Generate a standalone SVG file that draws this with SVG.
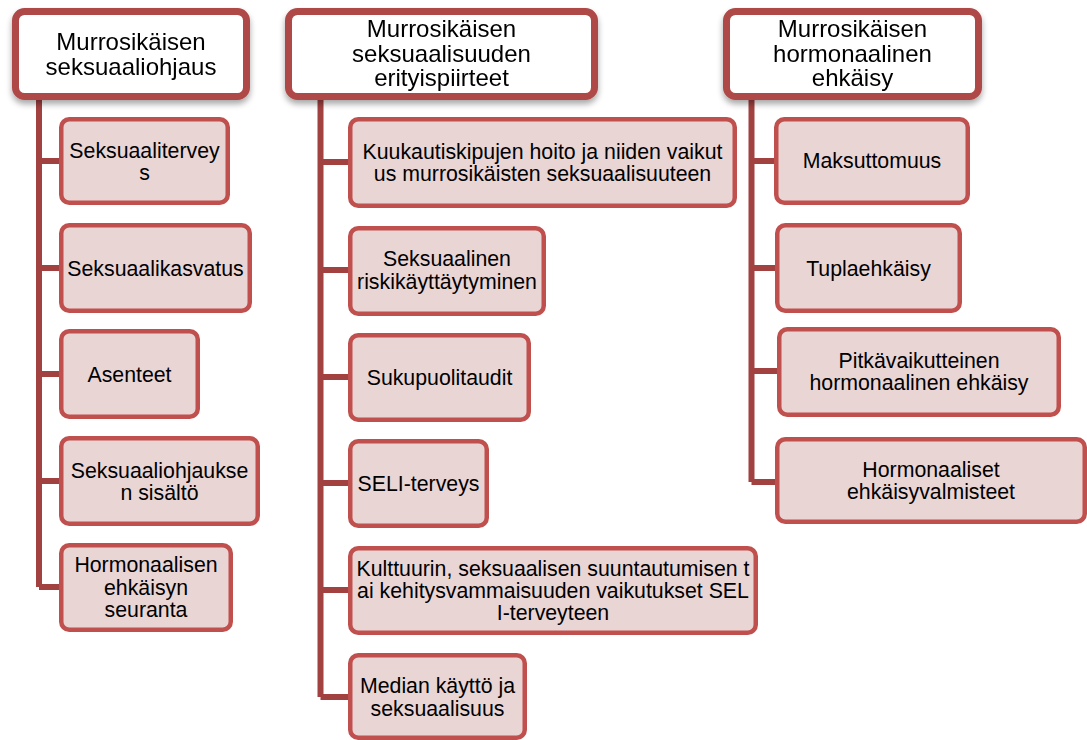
<svg xmlns="http://www.w3.org/2000/svg" width="1087" height="740" viewBox="0 0 1087 740">
<style>
text{font-family:"Liberation Sans",Arial,sans-serif;fill:#000;text-anchor:middle}
.h rect{fill:#fff;stroke:#AE4846;stroke-width:7}
.h text{font-size:24px}
.c rect{fill:#EAD5D5;stroke:#C0504D;stroke-width:4.5}
.c text{font-size:21.3px}
.conn path{fill:none;stroke:#A14140;stroke-width:6}
</style>
<defs>
<filter id="sh" x="-10%" y="-10%" width="120%" height="130%">
<feGaussianBlur in="SourceAlpha" stdDeviation="3"/>
<feOffset dx="0" dy="4"/>
<feComponentTransfer><feFuncA type="linear" slope="0.35"/></feComponentTransfer>
<feMerge><feMergeNode/><feMergeNode in="SourceGraphic"/></feMerge>
</filter>
</defs>
<g class="conn">
<path d="M39,98V587M39,161H61M39,268H61M39,374H61M39,481H61M39,587H61"/>
<path d="M320.5,98V697M320.5,162H350M320.5,270H350M320.5,377H350M320.5,483H350M320.5,590H350M320.5,697H350"/>
<path d="M751.5,98V482M751.5,161H776M751.5,268H777M751.5,371H779M751.5,482H777"/>
</g>
<g id="h1" class="h" filter="url(#sh)">
<rect x="15.5" y="11.5" width="231" height="85" rx="9"/>
<text x="131" y="49.5">Murrosikäisen</text>
<text x="131" y="74.5">seksuaaliohjaus</text>
</g>
<g id="h2" class="h" filter="url(#sh)">
<rect x="288.5" y="11.5" width="306" height="85" rx="9"/>
<text x="441.5" y="37">Murrosikäisen</text>
<text x="441.5" y="61.5">seksuaalisuuden</text>
<text x="441.5" y="86">erityispiirteet</text>
</g>
<g id="h3" class="h" filter="url(#sh)">
<rect x="726.5" y="11.5" width="252" height="85" rx="9"/>
<text x="852.5" y="37">Murrosikäisen</text>
<text x="852.5" y="61.5">hormonaalinen</text>
<text x="852.5" y="86">ehkäisy</text>
</g>
<g id="c1a" class="c"><rect x="61.25" y="119.25" width="166.5" height="83.5" rx="8"/>
<text x="144.5" y="157.5">Seksuaalitervey</text><text x="144.5" y="179.5">s</text></g>
<g id="c1b" class="c"><rect x="61.25" y="225.25" width="188.5" height="85.5" rx="8"/>
<text x="155.5" y="275.5">Seksuaalikasvatus</text></g>
<g id="c1c" class="c"><rect x="61.25" y="331.25" width="136.5" height="85.5" rx="8"/>
<text x="129.5" y="381.5">Asenteet</text></g>
<g id="c1d" class="c"><rect x="61.25" y="438.25" width="196.5" height="85.5" rx="8"/>
<text x="159.5" y="477.5">Seksuaaliohjaukse</text><text x="159.5" y="499.5">n sisältö</text></g>
<g id="c1e" class="c"><rect x="61.25" y="545.25" width="169.5" height="84.5" rx="8"/>
<text x="146" y="572">Hormonaalisen</text><text x="146" y="594.5">ehkäisyn</text><text x="146" y="617">seuranta</text></g>
<g id="c2a" class="c"><rect x="350.25" y="119.25" width="384.5" height="86.5" rx="8"/>
<text x="542.5" y="158.5">Kuukautiskipujen hoito ja niiden vaikut</text><text x="542.5" y="181">us murrosikäisten seksuaalisuuteen</text></g>
<g id="c2b" class="c"><rect x="350.25" y="228.25" width="193.5" height="85.5" rx="8"/>
<text x="447" y="266">Seksuaalinen</text><text x="447" y="288.5">riskikäyttäytyminen</text></g>
<g id="c2c" class="c"><rect x="350.25" y="335.25" width="178.5" height="84.5" rx="8"/>
<text x="439.5" y="385">Sukupuolitaudit</text></g>
<g id="c2d" class="c"><rect x="350.25" y="441.25" width="136.5" height="84.5" rx="8"/>
<text x="418.5" y="491">SELI-terveys</text></g>
<g id="c2e" class="c"><rect x="350.25" y="548.25" width="405.5" height="84.5" rx="8"/>
<text x="553" y="576">Kulttuurin, seksuaalisen suuntautumisen t</text><text x="553" y="598">ai kehitysvammaisuuden vaikutukset SEL</text><text x="553" y="620">I-terveyteen</text></g>
<g id="c2f" class="c"><rect x="350.25" y="655.25" width="174.5" height="82.5" rx="8"/>
<text x="437.5" y="693">Median käyttö ja</text><text x="437.5" y="715.5">seksuaalisuus</text></g>
<g id="c3a" class="c"><rect x="776.25" y="119.25" width="191.5" height="83.5" rx="8"/>
<text x="872" y="168">Maksuttomuus</text></g>
<g id="c3b" class="c"><rect x="777.25" y="225.25" width="182.5" height="85.5" rx="8"/>
<text x="868.5" y="275.5">Tuplaehkäisy</text></g>
<g id="c3c" class="c"><rect x="779.25" y="329.25" width="279.5" height="85.5" rx="8"/>
<text x="919" y="368">Pitkävaikutteinen</text><text x="919" y="390">hormonaalinen ehkäisy</text></g>
<g id="c3d" class="c"><rect x="777.25" y="439.25" width="307.5" height="82.5" rx="8"/>
<text x="931" y="477">Hormonaaliset</text><text x="931" y="499">ehkäisyvalmisteet</text></g>
</svg>
